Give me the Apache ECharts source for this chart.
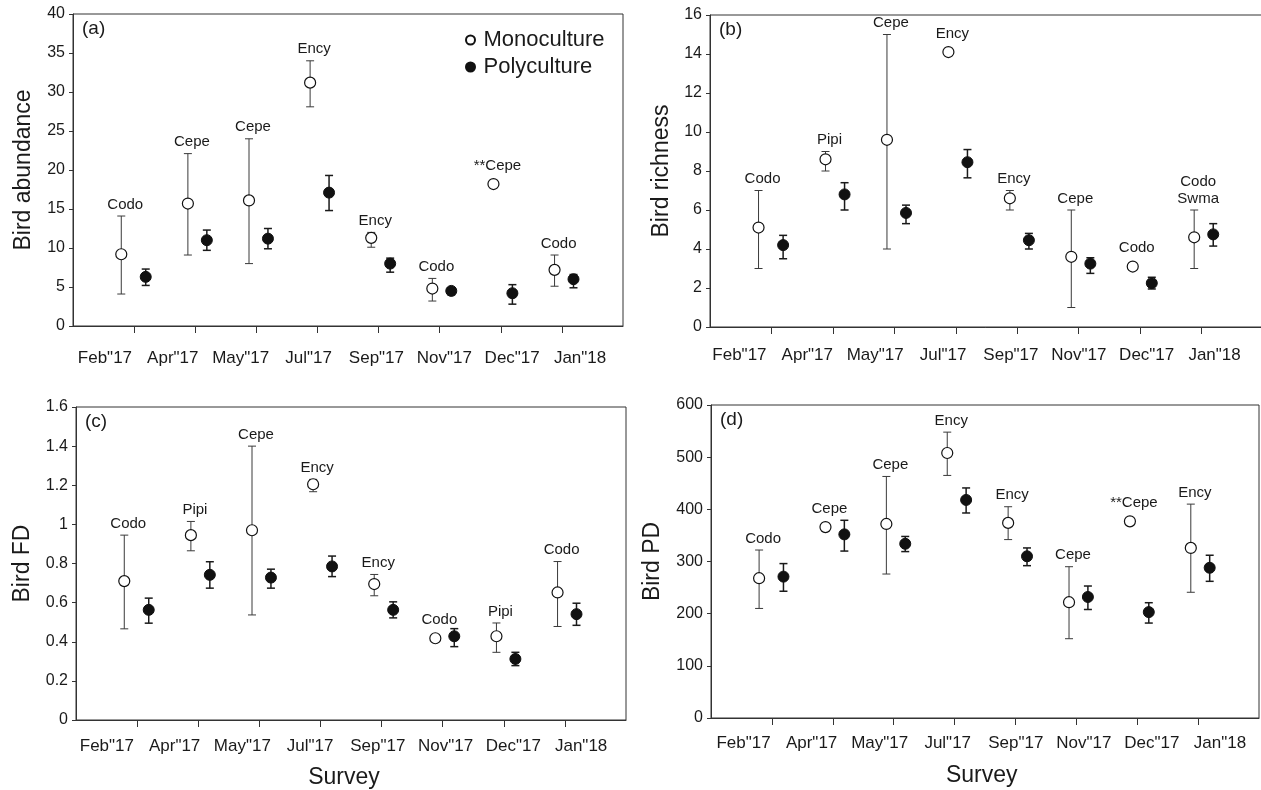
<!DOCTYPE html>
<html>
<head>
<meta charset="utf-8">
<script src="https://cdn.jsdelivr.net/npm/echarts@6/dist/echarts.min.js"></script>
<style>
html, body { margin: 0; padding: 0; background: #fff; }
#main { width: 1261px; height: 790px; }
</style>
</head>
<body>
<div id="main"></div>
<script>
// --------------------------------------------------------------------------------------------------------------------
// data
var months = ['Feb"17', 'Apr"17', 'May"17', 'Jul"17', 'Sep"17', 'Nov"17', 'Dec"17', 'Jan"18'];
var tickValues = [1, 2, 3, 4, 5, 6, 7, 8];
var monoX = [0.79, 1.88, 2.88, 3.88, 4.88, 5.88, 6.88, 7.88];
var polyX = [1.19, 2.19, 3.19, 4.19, 5.19, 6.19, 7.19, 8.19];

// (a) bird abundance
var abMono = [9.2, 15.7, 16.1, 31.2, 11.3, 4.8, 18.2, 7.2];
var abMonoLo = [4.1, 9.1, 8.0, 28.1, 10.1, 3.2, null, 5.1];
var abMonoHi = [14.1, 22.1, 24.0, 34.0, 12.0, 6.1, null, 9.1];
var abPoly = [6.3, 11.0, 11.2, 17.1, 8.0, 4.5, 4.2, 6.0];
var abPolyLo = [5.2, 9.7, 9.9, 14.8, 6.9, 4.0, 2.8, 4.9];
var abPolyHi = [7.3, 12.3, 12.5, 19.3, 8.7, 4.9, 5.3, 6.6];
var abTags = ['Codo', 'Cepe', 'Cepe', 'Ency', 'Ency', 'Codo', '**Cepe', 'Codo'];

// (b) bird richness
var riMono = [5.1, 8.6, 9.6, 14.1, 6.6, 3.6, 3.1, 4.6];
var riMonoLo = [3.0, 8.0, 4.0, null, 6.0, 1.0, null, 3.0];
var riMonoHi = [7.0, 9.0, 15.0, null, 7.0, 6.0, null, 6.0];
var riPoly = [4.2, 6.8, 5.85, 8.45, 4.45, 3.25, 2.25, 4.75];
var riPolyLo = [3.5, 6.0, 5.3, 7.65, 4.0, 2.75, 1.95, 4.15];
var riPolyHi = [4.7, 7.4, 6.25, 9.1, 4.8, 3.55, 2.55, 5.3];
var riTags = ['Codo', 'Pipi', 'Cepe', 'Ency', 'Ency', 'Cepe', 'Codo', 'Codo\nSwma'];

// (c) bird FD
var fdMono = [0.71, 0.945, 0.97, 1.205, 0.695, 0.418, 0.428, 0.652];
var fdMonoLo = [0.466, 0.865, 0.537, 1.167, 0.635, null, 0.346, 0.478];
var fdMonoHi = [0.945, 1.015, 1.40, 1.23, 0.744, null, 0.496, 0.81];
var fdPoly = [0.563, 0.742, 0.728, 0.785, 0.563, 0.428, 0.312, 0.541];
var fdPolyLo = [0.495, 0.674, 0.674, 0.733, 0.522, 0.375, 0.278, 0.484];
var fdPolyHi = [0.623, 0.809, 0.771, 0.838, 0.604, 0.467, 0.346, 0.597];
var fdTags = ['Codo', 'Pipi', 'Cepe', 'Ency', 'Ency', 'Codo', 'Pipi', 'Codo'];

// (d) bird PD
var pdMono = [268, 366, 372, 508, 374, 222, 377, 326];
var pdMonoLo = [210, null, 276, 465, 342, 152, null, 241];
var pdMonoHi = [322, null, 463, 548, 405, 290, null, 410];
var pdPoly = [271, 352, 334, 418, 310, 232, 203, 288];
var pdPolyLo = [243, 320, 319, 393, 292, 208, 182, 262];
var pdPolyHi = [296, 379, 348, 441, 326, 253, 221, 312];
var pdTags = ['Codo', 'Cepe', 'Cepe', 'Ency', 'Ency', 'Cepe', '**Cepe', 'Ency'];

// --------------------------------------------------------------------------------------------------------------------
var FONT = '"Liberation Sans", Arial, sans-serif';
var INK = '#1a1a1a';

var panels = [
    { tag: '(a)', yName: 'Bird abundance', yMax: 40, yStep: 5, nameGap: 38,
      mono: abMono, monoLo: abMonoLo, monoHi: abMonoHi, poly: abPoly, polyLo: abPolyLo, polyHi: abPolyHi, tags: abTags,
      grid: { left: 73, top: 14, width: 550, height: 312 }, labels: { left: 71, width: 543, margin: 24 } },
    { tag: '(b)', yName: 'Bird richness', yMax: 16, yStep: 2, nameGap: 37,
      mono: riMono, monoLo: riMonoLo, monoHi: riMonoHi, poly: riPoly, polyLo: riPolyLo, polyHi: riPolyHi, tags: riTags,
      grid: { left: 710, top: 15, width: 553, height: 312 }, labels: { left: 705.5, width: 543, margin: 20 } },
    { tag: '(c)', yName: 'Bird FD', yMax: 1.6, yStep: 0.2, nameGap: 42, xName: 'Survey',
      mono: fdMono, monoLo: fdMonoLo, monoHi: fdMonoHi, poly: fdPoly, polyLo: fdPolyLo, polyHi: fdPolyHi, tags: fdTags,
      grid: { left: 76, top: 407, width: 550, height: 313 }, labels: { left: 73, width: 542, margin: 18 } },
    { tag: '(d)', yName: 'Bird PD', yMax: 600, yStep: 100, nameGap: 47, xName: 'Survey',
      mono: pdMono, monoLo: pdMonoLo, monoHi: pdMonoHi, poly: pdPoly, polyLo: pdPolyLo, polyHi: pdPolyHi, tags: pdTags,
      grid: { left: 711, top: 405, width: 548, height: 313 }, labels: { left: 709.5, width: 544.5, margin: 17 } }
];

// --------------------------------------------------------------------------------------------------------------------
function errorBars(xs, vals, lo, hi, tags, stroke, width) {
    var data = [];
    for (var i = 0; i < xs.length; i++) {
        data.push([xs[i], vals[i]]);
    }
    function render(params, api) {
        var i = params.dataIndex;
        var x = api.value(0);
        var p = api.coord([x, api.value(1)]);
        var children = [];
        var anchor = p[1] - 7;
        if (lo[i] != null) {
            var a = api.coord([x, lo[i]]);
            var b = api.coord([x, hi[i]]);
            var st = { stroke: stroke, lineWidth: width };
            children.push({ type: 'line', shape: { x1: p[0], y1: a[1], x2: p[0], y2: b[1] }, style: st });
            children.push({ type: 'line', shape: { x1: p[0] - 4, y1: a[1], x2: p[0] + 4, y2: a[1] }, style: st });
            children.push({ type: 'line', shape: { x1: p[0] - 4, y1: b[1], x2: p[0] + 4, y2: b[1] }, style: st });
            anchor = b[1];
        }
        if (tags) {
            children.push({
                type: 'text', x: p[0] + 4, y: anchor - 3,
                style: { text: tags[i], fill: INK, font: '15px ' + FONT, align: 'center', verticalAlign: 'bottom', lineHeight: 17 }
            });
        }
        return { type: 'group', children: children };
    }
    return { data: data, renderItem: render };
}

function points(xs, vals) {
    var data = [];
    for (var i = 0; i < xs.length; i++) {
        data.push([xs[i], vals[i]]);
    }
    return data;
}

// --------------------------------------------------------------------------------------------------------------------
var grids = [], xAxes = [], yAxes = [], series = [], titles = [];

panels.forEach(function (pn, k) {
    var g = Object.assign({ show: true, borderColor: '#333', borderWidth: 1, outerBoundsMode: 'none', containLabel: false }, pn.grid);
    grids.push(g);
    grids.push({ show: false, left: pn.labels.left, width: pn.labels.width, top: pn.grid.top, height: pn.grid.height,
                 outerBoundsMode: 'none', containLabel: false });

    xAxes.push({
        type: 'value', gridIndex: 2 * k, min: 0, max: 9, interval: 1,
        axisLine: { show: true, onZero: false, lineStyle: { color: '#333', width: 1 } },
        axisTick: { show: true, length: 7, customValues: tickValues, lineStyle: { color: '#333' } },
        axisLabel: { show: false },
        splitLine: { show: false }
    });
    xAxes.push({
        type: 'category', gridIndex: 2 * k + 1, data: months, boundaryGap: true,
        axisLine: { show: false }, axisTick: { show: false }, splitLine: { show: false },
        axisLabel: { color: INK, fontSize: 17, fontFamily: FONT, margin: pn.labels.margin, interval: 0 },
        name: pn.xName || '', nameLocation: 'middle', nameGap: 46,
        nameTextStyle: { color: INK, fontSize: 23, fontFamily: FONT }
    });

    yAxes.push({
        type: 'value', gridIndex: 2 * k, min: 0, max: pn.yMax, interval: pn.yStep,
        axisLine: { show: true, lineStyle: { color: '#333', width: 1 } },
        axisTick: { show: true, length: 4, lineStyle: { color: '#333' } },
        axisLabel: { color: INK, fontSize: 16, fontFamily: FONT, margin: 8 },
        splitLine: { show: false },
        name: pn.yName, nameLocation: 'middle', nameGap: pn.nameGap,
        nameTextStyle: { color: INK, fontSize: 23, fontFamily: FONT }
    });
    yAxes.push({ type: 'value', gridIndex: 2 * k + 1, show: false, min: 0, max: 1 });

    var mb = errorBars(monoX, pn.mono, pn.monoLo, pn.monoHi, pn.tags, '#3a3a3a', 1);
    var pb = errorBars(polyX, pn.poly, pn.polyLo, pn.polyHi, null, '#1a1a1a', 1.5);
    series.push({ type: 'custom', xAxisIndex: 2 * k, yAxisIndex: 2 * k, silent: true, z: 1,
                  renderItem: mb.renderItem, data: mb.data });
    series.push({ type: 'custom', xAxisIndex: 2 * k, yAxisIndex: 2 * k, silent: true, z: 1,
                  renderItem: pb.renderItem, data: pb.data });
    series.push({
        type: 'scatter', name: 'Monoculture', xAxisIndex: 2 * k, yAxisIndex: 2 * k, z: 3,
        symbol: 'circle', symbolSize: 11, data: points(monoX, pn.mono),
        itemStyle: { color: '#ffffff', borderColor: '#111', borderWidth: 1.2, opacity: 1 },
        emphasis: { disabled: true }
    });
    series.push({
        type: 'scatter', name: 'Polyculture', xAxisIndex: 2 * k, yAxisIndex: 2 * k, z: 3,
        symbol: 'circle', symbolSize: 11, data: points(polyX, pn.poly),
        itemStyle: { color: '#111', borderColor: '#111', borderWidth: 1, opacity: 1 },
        emphasis: { disabled: true }
    });

    titles.push({
        text: pn.tag, left: pn.grid.left + 9, top: pn.grid.top + 5, padding: 0,
        textStyle: { color: INK, fontSize: 19, fontWeight: 'normal', fontFamily: FONT }
    });
});

// --------------------------------------------------------------------------------------------------------------------
var chart = echarts.init(document.getElementById('main'), null, { renderer: 'canvas' });
chart.setOption({
    backgroundColor: '#ffffff',
    animation: false,
    title: titles,
    legend: {
        data: ['Monoculture', 'Polyculture'],
        orient: 'vertical', left: 465, top: 29, padding: 0,
        itemWidth: 16, itemHeight: 9, itemGap: 5, icon: 'circle',
        textStyle: { color: INK, fontSize: 22, fontFamily: FONT, lineHeight: 22 },
        selectedMode: false
    },
    grid: grids,
    xAxis: xAxes,
    yAxis: yAxes,
    series: series
});
</script>
</body>
</html>
